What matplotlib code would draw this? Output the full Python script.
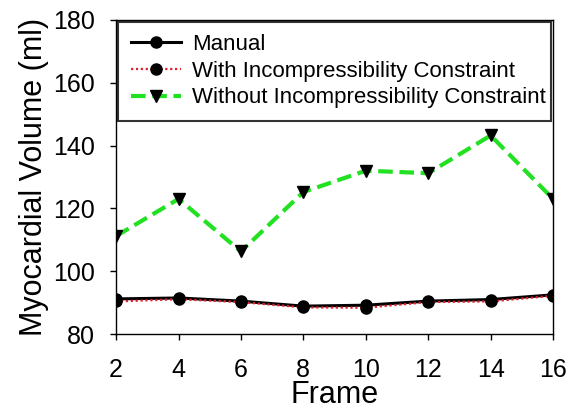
import matplotlib
matplotlib.use("Agg")
import matplotlib.pyplot as plt

plt.rcParams["font.family"] = ["Liberation Sans", "DejaVu Sans"]

frames = [2, 4, 6, 8, 10, 12, 14, 16]
manual = [91.2, 91.5, 90.5, 88.9, 89.2, 90.5, 91.0, 92.5]
with_constraint = [90.4, 91.1, 90.2, 88.5, 88.4, 90.2, 90.4, 92.2]
without_constraint = [111.2, 123.0, 106.3, 125.2, 132.0, 131.2, 143.2, 123.0]

fig = plt.figure(figsize=(5.69, 4.13), dpi=100)
ax = fig.add_axes([0.204, 0.191, 0.768, 0.761])

ax.plot(frames, without_constraint, color="#22e022", linestyle=(0, (3.5, 1.6)), linewidth=3,
        marker="v", markersize=8, markerfacecolor="black", markeredgecolor="black",
        label="Without Incompressibility Constraint", zorder=2)
ax.plot(frames, manual, color="black", linewidth=2.2, marker="o", markersize=8,
        markerfacecolor="black", markeredgecolor="black", label="Manual", zorder=3)
ax.plot(frames, with_constraint, color="#e0202a", linestyle=(0, (1, 1.2)), linewidth=1.6,
        marker="o", markersize=8, markerfacecolor="black", markeredgecolor="black",
        label="With Incompressibility Constraint", zorder=4)

ax.set_xlim(2, 16)
ax.set_ylim(80, 180)
ax.set_xticks(frames)
ax.set_yticks([80, 100, 120, 140, 160, 180])
ax.tick_params(axis="both", labelsize=18, direction="out", length=4, width=1)
ax.tick_params(axis="x", pad=13)
ax.tick_params(axis="y", pad=11)
ax.set_xlabel("Frame", fontsize=22, labelpad=-1)
ax.set_ylabel("Myocardial Volume (ml)", fontsize=22, labelpad=3)
for s in ax.spines.values():
    s.set_linewidth(1)

handles, labels = ax.get_legend_handles_labels()
order = [1, 2, 0]
leg = ax.legend([handles[i] for i in order], [labels[i] for i in order],
                loc="upper left", bbox_to_anchor=(0, 0, 1, 1), mode="expand",
                borderaxespad=0.1, fontsize=16, frameon=True, fancybox=False,
                handlelength=2.25, handletextpad=0.5, labelspacing=0.25,
                borderpad=0.55)
leg.get_frame().set_edgecolor("black")
leg.get_frame().set_linewidth(1.5)

fig.savefig("out.png", dpi=100)
